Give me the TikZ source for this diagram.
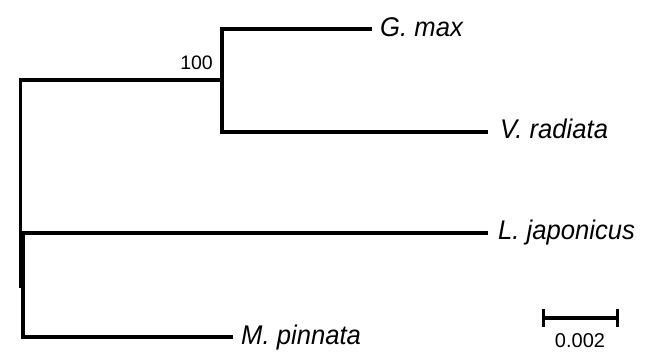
\documentclass[tikz,border=0pt]{standalone}
\usepackage{fontspec}
\setmainfont{Liberation Sans}
\newfontfamily\taxfont[FakeStretch=0.95]{Liberation Sans}
\tikzset{
  branch/.style={line width=3.4pt, line join=miter, line cap=butt, black},
  taxon/.style={anchor=west, inner sep=0pt, font=\taxfont\fontsize{27}{32}\selectfont\itshape, text height=19.3pt, text depth=0pt},
  support/.style={anchor=east, inner sep=0pt, font=\fontsize{19.5}{22}\selectfont},
  scalelab/.style={inner sep=0pt, font=\fontsize{20}{23}\selectfont, text height=14.3pt, text depth=0pt}
}
\begin{document}
\begin{tikzpicture}[x=1pt,y=-1pt]
\useasboundingbox (0,0) rectangle (656,351);
% internal nodes
\coordinate (rootA) at (20.5,80);
\coordinate (rootB) at (23,233);
\coordinate (rootBend) at (20.5,288);
\coordinate (clade) at (222,80);
% tips
\coordinate (tG) at (372,29);
\coordinate (tV) at (488,132);
\coordinate (tL) at (488,233);
\coordinate (tM) at (233,337);
% labels
\node[taxon] (lG) at (380,26.5) {G. max};
\node[taxon] (lV) at (500,129) {V. radiata};
\node[taxon] (lL) at (498,230) {L. japonicus};
\node[taxon] (lM) at (241,334.5) {M. pinnata};
\node[support] (s100) at (213,63) {100};
% branches
\draw[branch] (tG) -| (clade) |- (tV);
\draw[branch] (clade) -- (rootA) -- (rootBend);
\draw[branch] (tL) -- (rootB) |- (tM);
% scale bar
\coordinate (sb1) at (543,318);
\coordinate (sb2) at (617,318);
\draw[branch] (sb1) -- (sb2);
\draw[line width=3pt] ([yshift=-8.5pt]sb1) -- ([yshift=9.5pt]sb1);
\draw[line width=3pt] ([yshift=-8.5pt]sb2) -- ([yshift=9.5pt]sb2);
\node[scalelab] (sl) at (580,340) {0.002};
\end{tikzpicture}
\end{document}
